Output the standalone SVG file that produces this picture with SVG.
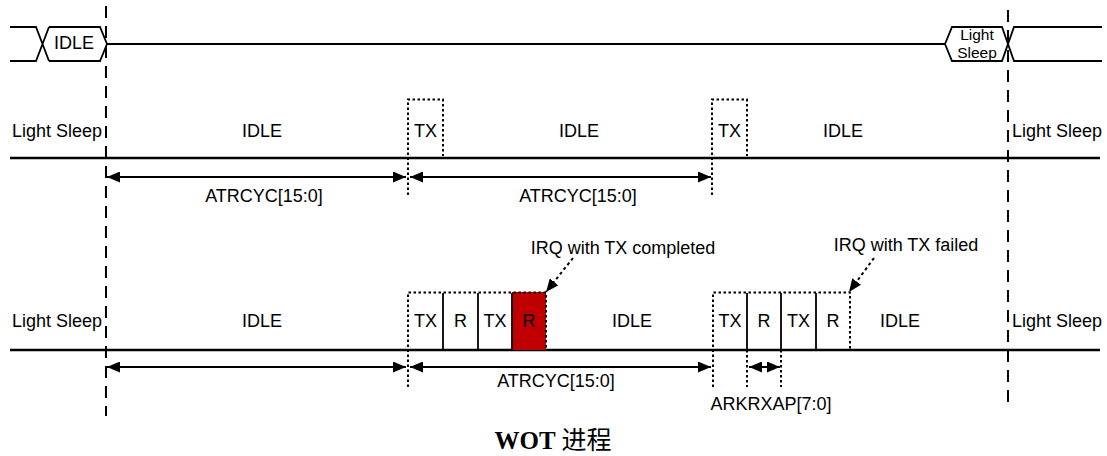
<svg xmlns="http://www.w3.org/2000/svg" width="1107" height="456" viewBox="0 0 1107 456">
<defs>
<marker id="ah" markerUnits="userSpaceOnUse" markerWidth="13" markerHeight="11" refX="13" refY="5.5" orient="auto-start-reverse" viewBox="0 0 13 11"><path d="M0,0 L13,5.5 L0,11 z" fill="#000"/></marker>
<style>
.t{font-family:"Liberation Sans",Arial,sans-serif;font-size:18px;fill:#000;text-anchor:middle}
.ts{font-family:"Liberation Sans",Arial,sans-serif;font-size:18px;fill:#000}
.ln{stroke:#000;stroke-width:2.5;fill:none}
.sl{stroke:#000;stroke-width:1.8;fill:none}
.dt{stroke:#000;stroke-width:2;stroke-dasharray:2.5 2.5;fill:none}
.dash{stroke:#000;stroke-width:2;stroke-dasharray:12 8;fill:none}
.ar{stroke:#000;stroke-width:2;fill:none;marker-start:url(#ah);marker-end:url(#ah)}
.irq{stroke:#000;stroke-width:2;stroke-dasharray:3 3;fill:none;marker-end:url(#ah)}
</style>
</defs>

<g id="bus-top">
<path class="sl" d="M10,27 H36 L49,61 M10,61 H36 L49,27"/>
<path class="sl" d="M49,27 H100 L107,44 L100,61 H49"/>
<text class="t" x="74" y="49">IDLE</text>
<path class="sl" d="M107,44 H945"/>
<path class="sl" d="M945,44 L952,27 H1002 L1014,61 H1102 M945,44 L952,61 H1002 L1014,27 H1102"/>
<text class="t" x="977" y="40" style="font-size:15.5px">Light</text>
<text class="t" x="977" y="57.5" style="font-size:15.5px">Sleep</text>
</g>

<g id="markers">
<line class="dash" x1="106" y1="6" x2="106" y2="416"/>
<line class="dash" x1="1008" y1="10" x2="1008" y2="410"/>
</g>

<g id="row2">
<line class="ln" x1="10" y1="158" x2="1100" y2="158"/>
<text class="ts" x="12" y="137">Light Sleep</text>
<text class="t" x="262" y="137">IDLE</text>
<path class="dt" d="M408,195 V99.5 H443 V156"/>
<text class="t" x="425.5" y="137">TX</text>
<text class="t" x="579" y="137">IDLE</text>
<path class="dt" d="M712,195 V99.5 H747 V156"/>
<text class="t" x="729.5" y="137">TX</text>
<text class="t" x="843" y="137">IDLE</text>
<text class="ts" x="1012" y="137">Light Sleep</text>
</g>

<g id="row3">
<line class="ln" x1="10" y1="350" x2="1100" y2="350"/>
<text class="ts" x="12" y="327">Light Sleep</text>
<text class="t" x="262" y="327">IDLE</text>
<rect x="512" y="292" width="34" height="58" fill="#C00000"/>
<path class="dt" d="M408,387 V292.5 H546 V350"/>
<line class="sl" x1="443" y1="293" x2="443" y2="350"/>
<line class="sl" x1="478" y1="293" x2="478" y2="350"/>
<line class="sl" x1="512" y1="293" x2="512" y2="350"/>
<text class="t" x="425.5" y="327">TX</text>
<text class="t" x="460.5" y="327">R</text>
<text class="t" x="495" y="327">TX</text>
<text class="t" x="529" y="327">R</text>
<text class="t" x="632" y="327">IDLE</text>
<path class="dt" d="M713,387 V292.5 H850 V350"/>
<line class="sl" x1="747" y1="293" x2="747" y2="350"/>
<line class="sl" x1="781" y1="293" x2="781" y2="350"/>
<line class="sl" x1="816" y1="293" x2="816" y2="350"/>
<line class="dt" x1="747" y1="350" x2="747" y2="387"/>
<line class="dt" x1="781" y1="350" x2="781" y2="387"/>
<text class="t" x="730" y="327">TX</text>
<text class="t" x="764" y="327">R</text>
<text class="t" x="798.5" y="327">TX</text>
<text class="t" x="833" y="327">R</text>
<text class="t" x="900" y="327">IDLE</text>
<text class="ts" x="1012" y="327">Light Sleep</text>
<text class="t" x="623" y="254">IRQ with TX completed</text>
<text class="t" x="906" y="251">IRQ with TX failed</text>
</g>

<g id="connectors">
<line class="ar" x1="107" y1="177" x2="406" y2="177"/>
<line class="ar" x1="410" y1="177" x2="711" y2="177"/>
<line class="ar" x1="107" y1="367" x2="406" y2="367"/>
<line class="ar" x1="410" y1="367" x2="711" y2="367"/>
<line class="ar" x1="749" y1="367" x2="780" y2="367"/>
<line class="irq" x1="573" y1="258" x2="546" y2="292"/>
<line class="irq" x1="874" y1="258" x2="849" y2="292"/>
</g>

<g id="labels">
<text class="t" x="264" y="202">ATRCYC[15:0]</text>
<text class="t" x="578" y="202">ATRCYC[15:0]</text>
<text class="t" x="556" y="387">ATRCYC[15:0]</text>
<text class="t" x="771" y="410">ARKRXAP[7:0]</text>
</g>

<g id="caption">
<text x="553" y="449" style="font-family:'Liberation Serif','Noto Sans CJK SC',serif;font-size:25px;font-weight:bold;text-anchor:middle">WOT <tspan style="font-family:'Noto Sans CJK SC',sans-serif;font-weight:normal">进程</tspan></text>
</g>
</svg>
